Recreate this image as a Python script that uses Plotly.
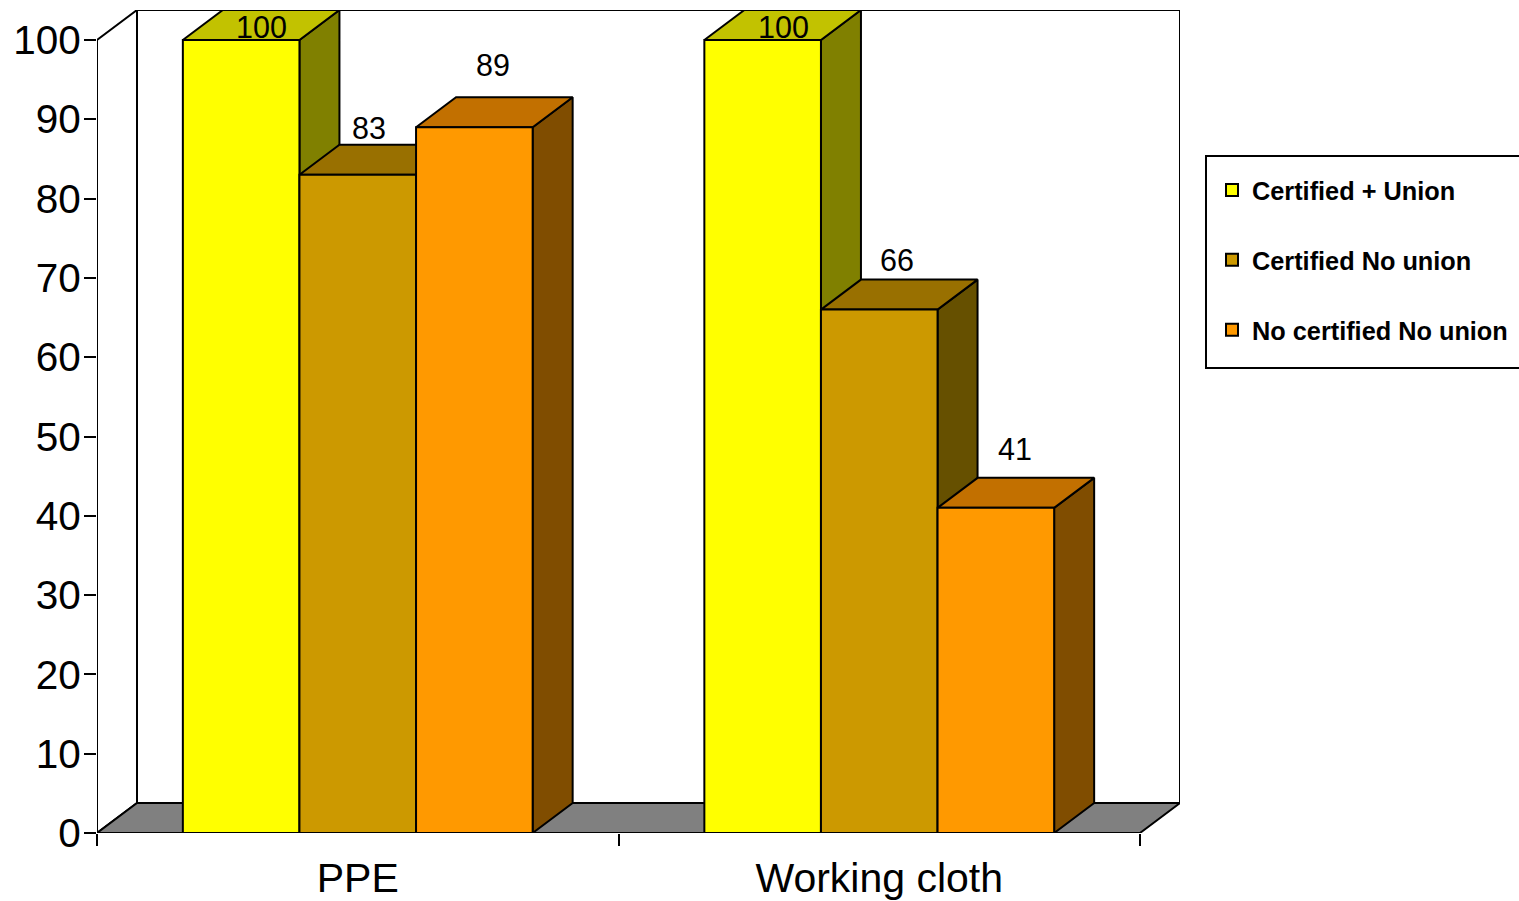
import plotly.graph_objects as go

categories = ["PPE", "Working cloth"]
series_names = ["Certified + Union", "Certified No union", "No certified No union"]
certified_union = [100, 100]
certified_no_union = [83, 66]
no_certified_no_union = [89, 41]
series_values = [certified_union, certified_no_union, no_certified_no_union]

front_colors = ["#FFFF00", "#CC9900", "#FF9900"]
top_colors = ["#C2C200", "#997000", "#C27000"]
side_colors = ["#808000", "#665000", "#804D00"]
y_ticks = list(range(0, 101, 10))
label_shift_x = [[20, 11, 19], [21, 18, 19]]
label_shift_y = [[13, 47, 62], [13, 50, 59]]

FONT = "Liberation Sans"
DX, DY = 40 / 521.5, 30 / 7.93
BAR_W = 116.6 / 521.5
N_CAT = len(categories)
N_SER = len(series_values)
XR = [0, N_CAT + DX]
YR = [0, 100 + DY]
cx = [i + 0.5 for i in range(N_CAT)]
PAPER_W = 1519 - 97
PLOT_DOMAIN = [0, 1083 / PAPER_W]


def poly(xs, ys, fill, axes=("x", "y"), width=2):
    return go.Scatter(
        x=xs, y=ys, mode="lines", fill="toself" if fill else None, fillcolor=fill,
        line=dict(color="black", width=width), showlegend=False, hoverinfo="skip",
        cliponaxis=False, xaxis=axes[0], yaxis=axes[1],
    )


fig = go.Figure()

# walls and floor
fig.add_trace(poly([DX, N_CAT + DX, N_CAT + DX, DX, DX], [DY, DY, 100 + DY, 100 + DY, DY], "white"))
fig.add_trace(poly([0, DX, DX, 0, 0], [0, DY, 100 + DY, 100, 0], "white"))
fig.add_trace(poly([0, DX, N_CAT + DX, N_CAT, 0], [0, DY, DY, 0, 0], "#808080"))

# depth faces, drawn under the fronts
for c in range(N_CAT):
    for s, vals in enumerate(series_values):
        v = vals[c]
        x0 = cx[c] + (s - 1.5) * BAR_W
        x1 = x0 + BAR_W
        fig.add_trace(poly([x1, x1 + DX, x1 + DX, x1, x1], [v, v + DY, DY, 0, v], side_colors[s]))
        fig.add_trace(poly([x0, x0 + DX, x1 + DX, x1, x0], [v, v + DY, v + DY, v, v], top_colors[s]))

# front faces on an overlaid pair of axes
for s, vals in enumerate(series_values):
    fig.add_trace(go.Bar(
        x=cx, y=vals, name=series_names[s],
        marker=dict(color=front_colors[s], line=dict(color="black", width=2)),
        legendgroup=series_names[s], xaxis="x2", yaxis="y2", hoverinfo="skip",
    ))

# data labels
for c in range(N_CAT):
    for s, vals in enumerate(series_values):
        fig.add_annotation(
            x=cx[c] + (s - 1) * BAR_W, y=vals[c], xref="x2", yref="y2", text=str(vals[c]),
            showarrow=False, xshift=label_shift_x[c][s], yshift=label_shift_y[c][s],
            font=dict(family=FONT, size=30.5, color="black"),
        )

axis_common = dict(showgrid=False, zeroline=False, showline=False, fixedrange=True, automargin=False)
fig.update_layout(
    width=1519, height=901, autosize=False,
    margin=dict(l=97, r=0, t=10, b=68, pad=0),
    plot_bgcolor="rgba(0,0,0,0)", paper_bgcolor="white",
    font=dict(family=FONT, color="black"),
    barmode="group", bargap=1 - N_SER * BAR_W, bargroupgap=0,
    xaxis=dict(
        domain=PLOT_DOMAIN, range=XR, tickmode="array", tickvals=cx, ticktext=categories,
        ticks="outside", ticklen=12, tickwidth=2, tickcolor="rgba(0,0,0,0)",
        ticklabelstandoff=-3, tickfont=dict(family=FONT, size=41, color="black"),
        minor=dict(tickmode="array", tickvals=list(range(N_CAT + 1)), ticks="outside",
                   ticklen=12, tickwidth=2, tickcolor="black", showgrid=False),
        **axis_common,
    ),
    yaxis=dict(
        range=YR, tickmode="array", tickvals=y_ticks, ticks="outside", ticklen=12,
        tickwidth=2, tickcolor="black", tickfont=dict(family=FONT, size=40.5, color="black"),
        ticklabelstandoff=-5, **axis_common,
    ),
    xaxis2=dict(domain=PLOT_DOMAIN, range=XR, overlaying="x", visible=False, **axis_common),
    yaxis2=dict(range=YR, overlaying="y", visible=False, **axis_common),
    legend=dict(
        x=(1212 - 97) / PAPER_W, y=(833 - 167) / 823, xanchor="left", yanchor="top",
        bgcolor="rgba(0,0,0,0)", borderwidth=0, tracegroupgap=34,
        traceorder="grouped", itemwidth=30,
        font=dict(family=FONT, size=25.3, color="black", weight=700),
    ),
    shapes=[dict(
        type="rect", xref="paper", yref="paper",
        x0=(1206 - 97) / PAPER_W, x1=(1560 - 97) / PAPER_W,
        y0=(833 - 368) / 823, y1=(833 - 156) / 823,
        line=dict(color="black", width=2), fillcolor="white", layer="below",
    )],
)

fig.write_html(
    "out.html",
    config={"displayModeBar": False, "responsive": False},
    post_script="document.body.style.margin='0';document.body.style.overflow='hidden';",
)
